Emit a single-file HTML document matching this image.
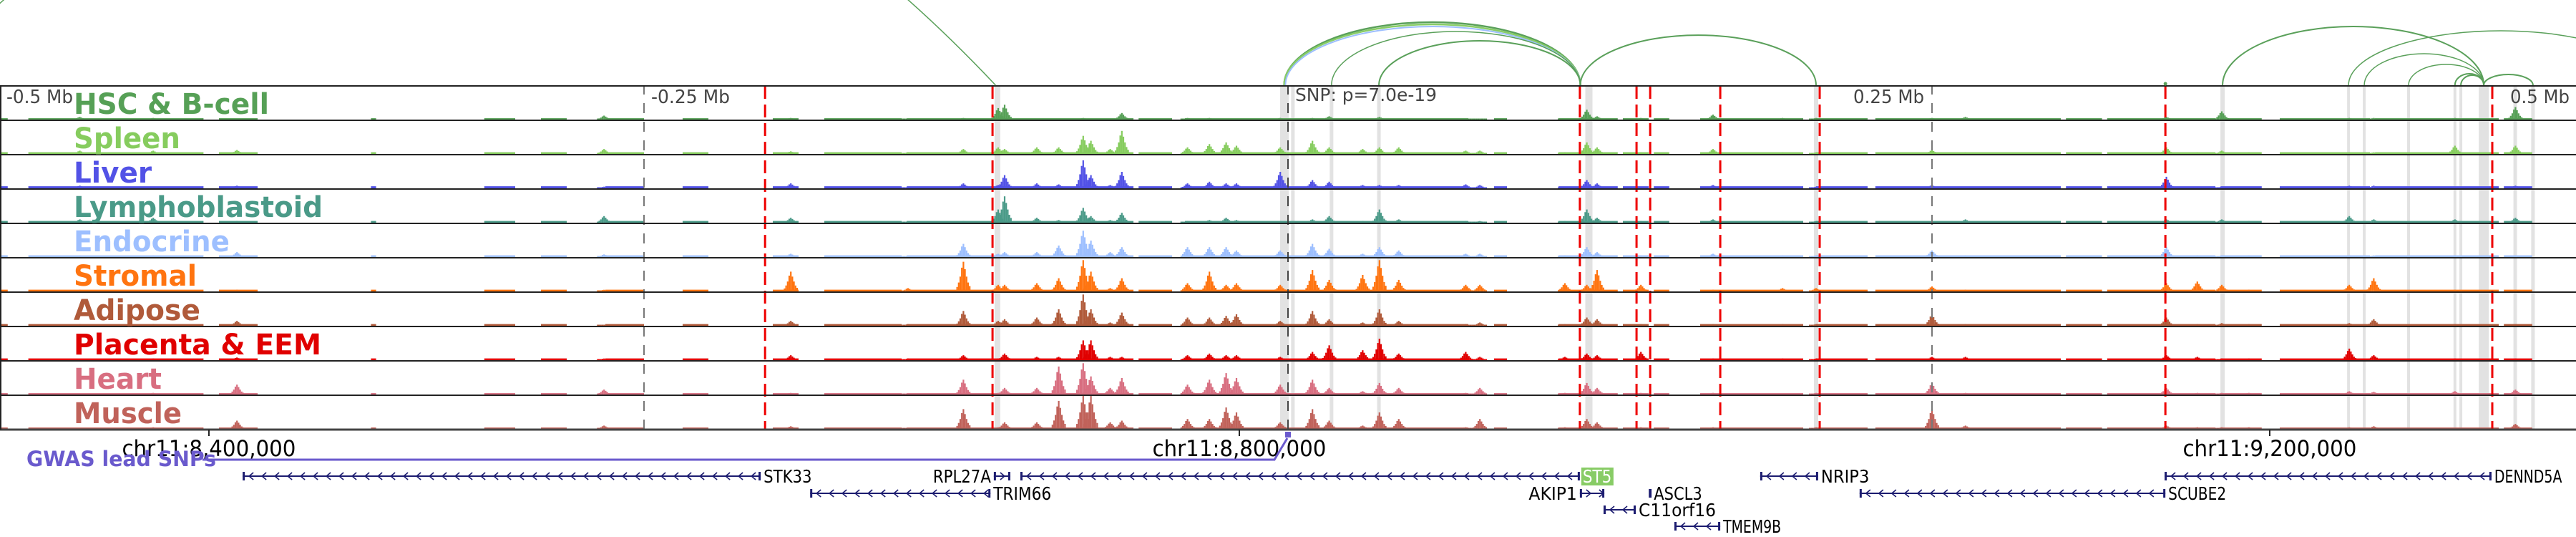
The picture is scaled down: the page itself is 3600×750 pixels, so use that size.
<!DOCTYPE html>
<html><head><meta charset="utf-8"><style>
html,body{margin:0;padding:0;background:#fff;}
svg{display:block;}
</style></head><body>
<svg id="fig" width="3600" height="750" viewBox="0 0 3600 750" xmlns="http://www.w3.org/2000/svg">
<g id="bands"></g>
<g id="tracks"></g>
<g id="vlines"></g>
<g id="frame"></g>
<g id="labels"></g>
<g id="arcs"></g>
<g id="axis"></g>
<g id="genes"></g>
</svg>
<script>
// ---- data ----
const trackNames = ["HSC & B-cell","Spleen","Liver","Lymphoblastoid","Endocrine","Stromal","Adipose","Placenta & EEM","Heart","Muscle"];
const trackColors = ["#56a056","#86cc5e","#5252e6","#4a9a88","#9dbfff","#ff7410","#b05a3a","#e00000","#d86e80","#c0625a"];
const peakPos = [-469,-440.5,-408,-265.5,-193,-147.5,-126,-112.5,-110,-97.5,-89,-79.5,-76.5,-69,-64.5,-39,-30.5,-24,-20,-3,9.5,16,29,35.5,43,69,74.5,107.5,116,120,137,165,192,205,250,263,341,353,362.5,373,412,421.5,453,476.5];
const hHSC   = [.08,.05,.03,.12,.05,.03,.05,.35,.45,.03,.03,.05,.03,.03,.2,.05,.05,.03,.03,.05,.05,.1,.03,.08,.03,.03,.03,.03,.3,.1,.05,.15,.05,.05,.05,.08,.08,.03,.25,.03,.05,.05,.05,.38];
const hSpleen= [.1,.1,.12,.15,.08,.05,.15,.2,.15,.2,.2,.55,.4,.15,.7,.2,.3,.35,.25,.2,.4,.2,.15,.2,.2,.1,.1,.05,.35,.2,.05,.15,.05,.05,.12,.05,.2,.05,.1,.05,.05,.05,.25,.25];
const hLiver = [.08,.05,.08,.05,.15,.03,.15,.1,.4,.15,.12,.85,.4,.1,.5,.15,.2,.15,.15,.5,.25,.2,.1,.1,.1,.12,.1,.05,.25,.15,.05,.1,.05,.05,.1,.05,.35,.05,.05,.05,.08,.08,.05,.08];
const hLympho= [.1,.15,.05,.2,.15,.03,.05,.4,.8,.15,.08,.45,.2,.08,.3,.05,.08,.15,.08,.05,.1,.2,.05,.4,.1,.05,.05,.05,.4,.15,.05,.1,.05,.05,.05,.1,.1,.03,.1,.05,.2,.1,.1,.15];
const hEndo  = [.05,.05,.15,.08,.1,.03,.4,.1,.15,.15,.35,.8,.5,.15,.3,.3,.3,.3,.2,.2,.4,.25,.1,.3,.2,.1,.1,.05,.3,.15,.05,.1,.05,.05,.2,.05,.3,.05,.05,.05,.05,.05,.05,.05];
const hStrom = [.05,.05,.05,.05,.6,.1,.9,.2,.2,.25,.4,.95,.6,.1,.4,.25,.6,.2,.25,.2,.65,.35,.5,.95,.35,.2,.2,.25,.2,.65,.2,.05,.1,.1,.15,.05,.25,.3,.2,.05,.2,.4,.05,.05];
const hAdip  = [.05,.05,.15,.03,.15,.05,.45,.15,.2,.25,.5,.95,.5,.1,.4,.25,.25,.3,.35,.15,.45,.2,.1,.5,.15,.05,.1,.05,.25,.2,.05,.05,.05,.05,.35,.05,.25,.05,.08,.05,.08,.2,.05,.05];
const hPlac  = [.03,.05,.08,.05,.15,.05,.15,.05,.2,.1,.1,.6,.6,.1,.1,.15,.2,.15,.15,.1,.25,.45,.3,.65,.2,.25,.1,.1,.2,.15,.25,.05,.05,.05,.1,.1,.15,.1,.05,.05,.35,.15,.05,.05];
const hHeart = [.03,.05,.3,.15,.05,.03,.45,.05,.2,.2,.85,.95,.55,.2,.5,.3,.45,.65,.5,.3,.45,.2,.1,.35,.2,.05,.2,.05,.35,.2,.05,.05,.03,.05,.35,.05,.2,.05,.05,.05,.1,.08,.1,.15];
const hMuscle= [.03,.05,.25,.1,.08,.03,.6,.05,.2,.2,.85,1,1,.2,.25,.3,.3,.65,.5,.2,.6,.25,.1,.5,.3,.05,.3,.05,.3,.2,.05,.05,.03,.05,.6,.1,.1,.05,.05,.05,.05,.08,.03,.15];
const trackHeights = [hHSC,hSpleen,hLiver,hLympho,hEndo,hStrom,hAdip,hPlac,hHeart,hMuscle];
const bgRuns = [[-500,-497],[-489,-421],[-415,-400],[-356,-354],[-312,-300],[-290,-280],[-265,-250],[-235,-225],[-200,-190],[-180,-150],[-148,-60],[-58,-45],[-40,70],[80,85],[105,128],[130,140],[142,148],[160,200],[205,225],[228,300],[302,316],[318,360],[362,378],[385,420],[422,470],[472,483]];
const bgLevel = [.04,.05,.06,.05,.05,.05,.05,.05,.04,.04];
const redLines = [-203,-114.7,113.3,135.3,140.6,167.8,206.4,340.6,467.5];
const grayBands = [-112.8,-1.4,1.9,16.9,35.3,116.1,117.5,205,362.8,411.7,417.8,435,453,455.3,464.2,476.4,483.3];
const grayBandW = [8,12,5,5,5,5,5,6,6,4,4,4,4,4,14,5,5];
const scaleTicks = [-500,-250,0,250,500];
const scaleTickLabels = ["-0.5 Mb","-0.25 Mb","","0.25 Mb","0.5 Mb"];
const genomicTicks = [8400000,8800000,9200000];
const genomicTickLabels = ["chr11:8,400,000","chr11:8,800,000","chr11:9,200,000"];
const centerBp = 8818900;
const arcStart = [-532.5,-1.5,-1.5,-1.0,16.9,35.3,113.5,362.8,411.7,417.8,435,453,455.3,464.2];
const arcEnd   = [-113.5,113.5,113.5,113.5,113.5,113.5,205,464.2,530,464.2,464.2,464.2,464.2,483.3];
const arcPeak  = [400,88,85,82,75,62,70,82,76,44,29,16,14,15];
const arcColor = ["#5aa05a","#5aa05a","#88cc66","#9dbfff","#5aa05a","#5aa05a","#5aa05a","#5aa05a","#5aa05a","#5aa05a","#5aa05a","#5aa05a","#5aa05a","#5aa05a"];
const arcWidth = [1.5,2.5,2.5,2,1.5,2,2,2,1.5,1.5,1.5,2,2,2];
const geneNames = ["STK33","TRIM66","RPL27A","ST5","AKIP1","ASCL3","C11orf16","TMEM9B","NRIP3","SCUBE2","DENND5A"];
const geneStart = [-405.8,-185.5,-114.2,-103.9,113.3,140.3,122.5,150,183.3,221.9,340.3];
const geneEnd   = [-204.7,-115.5,-107.8,113.3,122.8,140.9,135,167.8,205.8,340.6,467.2];
const geneRow   = [0,1,0,0,1,1,2,3,0,1,0];
const geneStrand= [-1,-1,1,-1,1,1,-1,-1,-1,-1,-1];
const geneLabelLeft = [false,false,true,false,true,false,false,false,false,false,false];

// ---- helpers ----
const NS="http://www.w3.org/2000/svg";
const X = kb => 1800 + kb*3.6;
const XG = bp => 1800 + (bp-centerBp)/1000*3.6;
const TOP=120, TH=48;
function mk(tag, parent, attrs){const e=document.createElementNS(NS,tag);for(const k in attrs)e.setAttribute(k,attrs[k]);parent.appendChild(e);return e;}
const G = id=>document.getElementById(id);
const profile=[0.15,0.3,0.5,0.8,1,0.75,0.5,0.3,0.18];

grayBands.forEach((kb,i)=>{
  const r=mk('rect',G('bands'),{x:X(kb)-grayBandW[i]/2,y:TOP,width:grayBandW[i],height:480,fill:'#e2e2e2'});
  
  
});

trackNames.forEach((nm,t)=>{
  const g=mk('g',G('tracks'),{fill:trackColors[t]});
  
  
  const base=TOP+(t+1)*TH-1;
  bgRuns.forEach(r=>{
    const b=mk('rect',g,{x:X(r[0]),y:base-bgLevel[t]*TH,width:X(r[1])-X(r[0]),height:bgLevel[t]*TH});
    
    
  });
  peakPos.forEach((kb,i)=>{
    const h=trackHeights[t][i]*(TH-2);
    const cx=X(kb);
    profile.forEach((p,j)=>{
      const bh=Math.max(1.5,h*p);
      const b=mk('rect',g,{x:cx+(j-4)*2.2-1.1,y:base-bh,width:2.2,height:bh});
      
      
    });
  });
});

scaleTicks.forEach((kb,i)=>{
  if(kb===-500||kb===500) return;
  const l=mk('line',G('vlines'),{x1:X(kb),x2:X(kb),y1:TOP,y2:600,stroke:kb===0?'#444':'#777','stroke-width':2,'stroke-dasharray':'14 12','stroke-dashoffset':-24});
  
  
});
redLines.forEach(kb=>{
  const l=mk('line',G('vlines'),{x1:X(kb),x2:X(kb),y1:TOP,y2:600,stroke:'#ee0000','stroke-width':3,'stroke-dasharray':'18 8'});
  
  
});

for(let t=0;t<=10;t++){
  const y=TOP+t*TH;
  const l=mk('line',G('frame'),{x1:0,x2:3600,y1:y,y2:y,stroke:t===10?'#444':'#222','stroke-width':t===10?3:2});
  
  
}
const lb=mk('line',G('frame'),{x1:1,x2:1,y1:TOP,y2:600,stroke:'#222','stroke-width':2});



const labelW=[273,149,109,348,218,172,177,346,123,151];
trackNames.forEach((nm,t)=>{
  const tx=mk('text',G('labels'),{x:103,y:TOP+t*TH+39,fill:trackColors[t],'font-family':'"DejaVu Sans","Liberation Sans",sans-serif','font-weight':'bold','font-size':40,textLength:labelW[t],lengthAdjust:'spacingAndGlyphs'});
  tx.textContent=nm;
  
  
});
const stW=[93,110,0,99,83];
const stX=[9,910,0,2590,3508];
scaleTicks.forEach((kb,i)=>{
  if(!scaleTickLabels[i]) return;
  const tx=mk('text',G('labels'),{x:stX[i],y:144,fill:'#444','font-family':'"DejaVu Sans","Liberation Sans",sans-serif','font-size':26,textLength:stW[i],lengthAdjust:'spacingAndGlyphs'});
  tx.textContent=scaleTickLabels[i];
  
  
});
const snp=mk('text',G('labels'),{x:1810,y:141,fill:'#444','font-family':'"DejaVu Sans","Liberation Sans",sans-serif','font-size':25,textLength:198,lengthAdjust:'spacingAndGlyphs'});
snp.textContent='SNP: p=7.0e-19';



arcStart.forEach((s,i)=>{
  const x1=X(s), x2=X(arcEnd[i]), rx=(x2-x1)/2, ry=arcPeak[i];
  let d;
  if(ry>150){ d=`M${x1} 119 Q ${(x1+x2)/2} ${119-2*ry} ${x2} 119`; }
  else { d=`M${x1} 119 A${rx} ${ry} 0 0 1 ${x2} 119`; }
  const p=mk('path',G('arcs'),{d:d,fill:'none',stroke:arcColor[i],'stroke-width':arcWidth[i]});
  
  
});
const dot=mk('circle',G('arcs'),{cx:X(340.6),cy:117,r:2.5,fill:'#5aa05a'});



genomicTicks.forEach((bp,i)=>{
  const x=XG(bp);
  const tk=mk('line',G('axis'),{x1:x,x2:x,y1:600,y2:609,stroke:'#222','stroke-width':2});
  
  
  const tx=mk('text',G('axis'),{x:x,y:637,'text-anchor':'middle',fill:'#000','font-family':'"DejaVu Sans","Liberation Sans",sans-serif','font-size':31,textLength:243,lengthAdjust:'spacingAndGlyphs'});
  tx.textContent=genomicTickLabels[i];
  
  
});
const gw=mk('path',G('axis'),{d:`M283 642 L1781 642 L1799 612`,fill:'none',stroke:'#6a5acd','stroke-width':3});


const gm=mk('rect',G('axis'),{x:1796,y:603,width:8,height:8,fill:'#6a5acd'});


const gl=mk('text',G('axis'),{x:37,y:651,fill:'#6a5acd','font-family':'"DejaVu Sans","Liberation Sans",sans-serif','font-weight':'bold','font-size':29,textLength:265,lengthAdjust:'spacingAndGlyphs'});
gl.textContent='GWAS lead SNPs';



const rowY=[665,689,712,735];
geneNames.forEach((nm,i)=>{
  const g=mk('g',G('genes'),{});
  
  
  const x1=X(geneStart[i]), x2=X(geneEnd[i]), y=rowY[geneRow[i]];
  mk('line',g,{x1:x1,x2:x2,y1:y,y2:y,stroke:'#1c1c70','stroke-width':2});
  mk('rect',g,{x:x1,y:y-6,width:3,height:12,fill:'#1c1c70'});
  mk('rect',g,{x:x2-3,y:y-6,width:3,height:12,fill:'#1c1c70'});
  for(let cx=x1+10;cx<x2-6;cx+=18){
    const d=geneStrand[i]<0?`M${cx+5} ${y-5} L${cx-1} ${y} L${cx+5} ${y+5}`:`M${cx-1} ${y-5} L${cx+5} ${y} L${cx-1} ${y+5}`;
    mk('path',g,{d:d,fill:'none',stroke:'#1c1c70','stroke-width':1.6});
  }
  const lw=nm.length*13.5;
  if(nm==='ST5'){
    mk('rect',g,{x:x2+2,y:y-12,width:45,height:25,fill:'#88cc66'});
  }
  const tx=mk('text',g,{x:geneLabelLeft[i]?x1-4:x2+4,y:y+9,'text-anchor':geneLabelLeft[i]?'end':'start',fill:nm==='ST5'?'#fff':'#000','font-family':'"DejaVu Sans","Liberation Sans",sans-serif','font-size':25,textLength:lw,lengthAdjust:'spacingAndGlyphs'});
  tx.textContent=nm;
  
  
});
</script>
</body></html>
